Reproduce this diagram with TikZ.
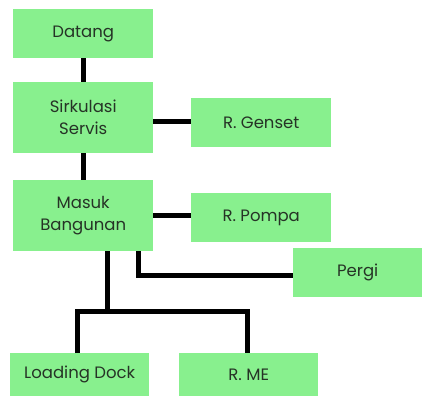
\documentclass[tikz,border=0pt]{standalone}
\usepackage{fontspec}
\setmainfont{Poppins}
\begin{document}
\begin{tikzpicture}[x=1pt,y=-1pt,
  box/.style={fill=boxgreen,draw=none,text=textgray,font=\fontsize{16.5}{22}\selectfont,align=center,anchor=north west,inner sep=0pt},
  link/.style={line width=5pt,draw=black}]
\definecolor{boxgreen}{HTML}{88F08E}
\definecolor{textgray}{HTML}{263326}
\useasboundingbox (0,0) rectangle (422,396);
\node[box,minimum width=140pt,minimum height=49pt] (dat) at (13,9) {Datang};
\node[box,minimum width=140pt,minimum height=71pt] (sir) at (13,82) {Sirkulasi\\Servis};
\node[box,minimum width=140pt,minimum height=49pt] (gen) at (191,98) {R. Genset};
\node[box,minimum width=140pt,minimum height=71pt] (mas) at (13,180) {Masuk\\Bangunan};
\node[box,minimum width=140pt,minimum height=49pt] (pom) at (191,193) {R. Pompa};
\node[box,minimum width=129pt,minimum height=49pt] (per) at (293,248) {Pergi};
\node[box,minimum width=139pt,minimum height=43pt] (ld) at (10,353) {Loading Dock};
\node[box,minimum width=139pt,minimum height=43pt] (me) at (179,353) {R. ME};
\coordinate (j) at (107,311);
\draw[link] (dat.south -| 83,0) -- (sir.north -| 83,0);
\draw[link] (sir.south -| 83,0) -- (mas.north -| 83,0);
\draw[link] (sir.east |- 0,121) -- (gen.west |- 0,121);
\draw[link] (mas.east |- 0,215) -- (gen.west |- 0,215);
\draw[link] (mas.south -| 138,0) |- (per.west |- 0,275);
\draw[link] (mas.south -| j) -- (j);
\draw[link] (ld.north -| 77,0) |- (j) -| (me.north -| 247,0);
\end{tikzpicture}
\end{document}
